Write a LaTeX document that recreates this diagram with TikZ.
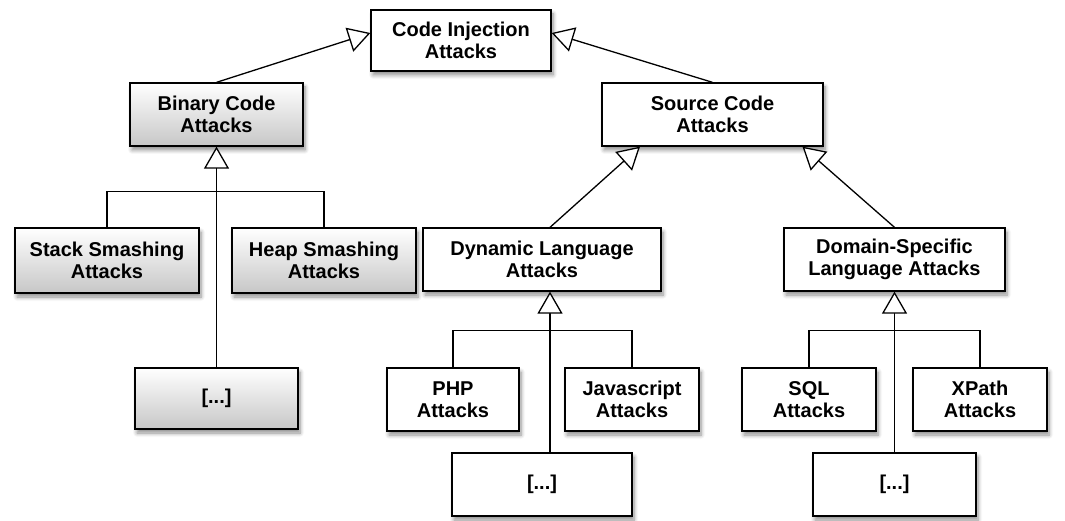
\documentclass[tikz,border=0pt]{standalone}
\usepackage{fontspec}
\setmainfont{Liberation Sans}
\usetikzlibrary{arrows.meta,shadows.blur}

\tikzset{
  box/.style={draw=black, line width=1.3pt, fill=white, align=center, inner sep=0pt,
    font=\fontsize{20}{22}\selectfont\bfseries,
    blur shadow={shadow xshift=2pt, shadow yshift=-4pt, shadow blur radius=4pt,
                 shadow blur steps=6, shadow opacity=45}},
  graybox/.style={box, top color=white, bottom color=black!22},
  link/.style={line width=1.3pt, draw=black},
  inh/.style={link, -{Triangle[length=22pt,width=25pt,fill=white,line width=1.3pt]}}
}

\begin{document}
\begin{tikzpicture}[x=1pt, y=-1pt]
\useasboundingbox (0,0) rectangle (1065,521);

% class boxes
\node[box, minimum width=180pt, minimum height=61pt] (ci) at (461,40.5) {Code Injection\\Attacks};
\node[graybox, minimum width=173pt, minimum height=63pt] (bin) at (216.5,114.5) {Binary Code\\Attacks};
\node[box, minimum width=221pt, minimum height=63pt] (src) at (712.5,114.5) {Source Code\\Attacks};

\node[graybox, minimum width=184pt, minimum height=65pt] (stack) at (107,260.5) {Stack Smashing\\Attacks};
\node[graybox, minimum width=184pt, minimum height=65pt] (heap) at (324,260.5) {Heap Smashing\\Attacks};
\node[graybox, minimum width=163pt, minimum height=61pt] (bdots) at (216.5,398.5) {[...]};

\node[box, minimum width=238pt, minimum height=63pt] (dyn) at (542,259.5) {Dynamic Language\\Attacks};
\node[box, minimum width=221pt, minimum height=63pt] (dsl) at (894.5,259.5) {Domain-Specific\\Language Attacks};

\node[box, minimum width=132pt, minimum height=63pt] (php) at (453,399.5) {PHP\\Attacks};
\node[box, minimum width=134pt, minimum height=63pt] (js) at (632,399.5) {Javascript\\Attacks};
\node[box, minimum width=180pt, minimum height=63pt] (ddots) at (542,484.5) {[...]};

\node[box, minimum width=134pt, minimum height=63pt] (sql) at (809,399.5) {SQL\\Attacks};
\node[box, minimum width=134pt, minimum height=63pt] (xpath) at (980,399.5) {XPath\\Attacks};
\node[box, minimum width=163pt, minimum height=63pt] (sdots) at (894.5,484.5) {[...]};

% generalisation links
\draw[inh] (bin.north) -- ([yshift=7.5pt]ci.west);
\draw[inh] (src.north) -- ([yshift=7.5pt]ci.east);
\draw[inh] ([xshift=8pt]dyn.north) -- ([xshift=-72.5pt]src.south);
\draw[inh] (dsl.north) -- ([xshift=90pt]src.south);

% binary code subtree
\draw[link] (stack.north) |- ([yshift=-45pt]bin.south) -| (heap.north);
\draw[inh] (bdots.north) -- (bin.south);

% dynamic language subtree
\draw[link] (php.north) |- ([xshift=8pt,yshift=-39pt]dyn.south) -| (js.north);
\draw[inh] ([xshift=8pt]ddots.north) -- ([xshift=8pt]dyn.south);

% domain-specific language subtree
\draw[link] (sql.north) |- ([yshift=-39pt]dsl.south) -| (xpath.north);
\draw[inh] (sdots.north) -- (dsl.south);
\end{tikzpicture}
\end{document}
